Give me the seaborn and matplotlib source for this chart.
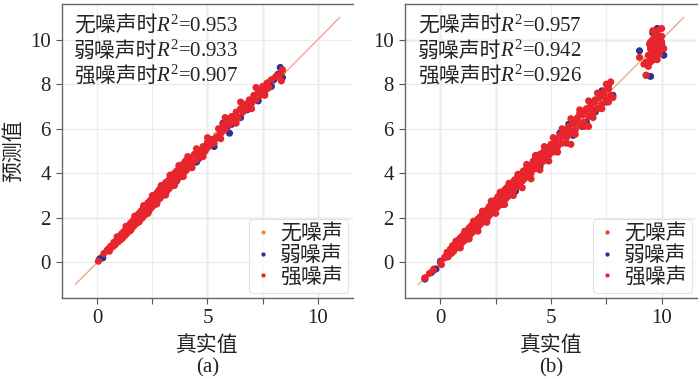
import matplotlib
matplotlib.use("Agg")
import matplotlib.pyplot as plt
import matplotlib.transforms as mtransforms
import seaborn as sns
import pandas as pd
from matplotlib.ticker import MultipleLocator

# ---------------- data ----------------
series_names = ["无噪声", "弱噪声", "强噪声"]
r2_a = ["0.953", "0.933", "0.907"]
r2_b = ["0.957", "0.942", "0.926"]
x_ticks = [0, 5, 10]
y_ticks = [0, 2, 4, 6, 8, 10]

# panel (a)
a_none_true = [0.2, 0.6, 1.0, 1.4, 1.8, 2.2, 2.6, 3.0, 3.4, 3.8, 4.2, 4.6, 5.0, 5.4, 5.8, 6.2,
               6.6, 7.0, 7.4, 7.8, 8.1, 8.35, 8.4]
a_none_pred = [0.25, 0.65, 1.1, 1.5, 1.95, 2.35, 2.8, 3.2, 3.6, 4.05, 4.45, 4.9, 5.3, 5.7, 6.1, 6.5,
               6.9, 7.3, 7.7, 8.1, 8.3, 8.35, 8.55]
a_weak_true = [0.1, 0.25, 0.9, 1.5, 2.3, 3.0, 3.4, 3.6, 4.2, 4.5, 4.6, 4.8, 5.0, 5.2, 5.3, 5.5,
               5.9, 6.1, 6.3, 6.5, 6.7, 6.9, 7.1, 7.3, 7.5, 7.7, 7.9, 8.0, 8.2, 8.3, 8.4, 6.0, 4.0,
               2.7, 3.8, 5.7, 6.8]
a_weak_pred = [0.15, 0.2, 0.9, 1.55, 2.4, 3.1, 3.45, 3.65, 4.35, 4.5, 4.65, 4.9, 5.3, 5.5, 5.2, 5.65,
               6.1, 6.2, 6.4, 6.5, 6.9, 7.0, 7.35, 7.25, 7.75, 7.8, 7.9, 8.2, 8.45, 8.75, 8.3, 5.8, 4.4,
               2.8, 3.9, 6.25, 6.85]
a_strong_true = [0.05, 0.3, 0.45,
                 0.5, 0.55, 0.6, 0.7, 0.75, 0.8, 0.9, 0.95, 1.0, 1.05, 1.1, 1.15, 1.2, 1.25, 1.3,
                 1.35, 1.4, 1.45, 1.5, 1.55, 1.6, 1.65, 1.7, 1.75, 1.8, 1.85, 1.9, 1.95, 2.0, 2.05,
                 2.1, 2.15, 2.2, 2.25, 2.3, 2.35, 2.4, 2.45, 2.5, 2.55, 2.6, 2.65, 2.7, 2.75, 2.8,
                 2.85, 2.9, 2.95, 3.0, 3.05, 3.1, 3.15, 3.2, 3.25, 3.3, 3.35, 3.4, 3.45, 3.5, 3.55,
                 3.6, 3.65, 3.7, 3.75, 3.8, 3.85, 3.9, 3.95, 4.0, 4.05,
                 0.6, 0.8, 1.0, 1.2, 1.4, 1.6, 1.8, 2.0, 2.2, 2.4, 2.6, 2.8, 3.0, 3.2, 3.4, 3.6, 3.8,
                 4.1, 4.2, 4.3, 4.4, 4.5, 4.6, 4.7, 4.8, 4.9, 5.0, 5.1, 5.2, 5.3, 5.5, 5.6, 5.7, 5.8,
                 5.9, 6.0, 6.1, 6.2, 6.3, 6.4, 6.5, 6.6, 6.7, 6.8, 6.9, 7.0, 7.1, 7.2, 7.3, 7.4, 7.5,
                 7.6, 7.7, 7.8, 7.9, 8.1, 8.3, 8.35, 8.4, 5.4, 6.0, 4.6, 5.0,
                 0.9, 1.3, 1.7, 2.1, 2.5, 2.9, 3.3, 3.7, 4.1, 4.5, 5.0, 5.8, 6.5, 7.2,
                 1.1, 1.5, 1.9, 2.3, 2.7, 3.1, 3.5, 3.9, 4.3, 4.8, 5.6, 6.3, 7.0, 7.6]
a_strong_pred = [0.05, 0.4, 0.55,
                 0.6, 0.5, 0.72, 0.7, 0.9, 0.78, 1.05, 0.92, 1.15, 1.02, 1.28, 1.1, 1.38, 1.2, 1.5,
                 1.3, 1.6, 1.42, 1.75, 1.5, 1.85, 1.62, 1.98, 1.72, 2.1, 1.8, 2.2, 1.92, 2.32, 2.0,
                 2.45, 2.12, 2.55, 2.22, 2.68, 2.32, 2.78, 2.45, 2.9, 2.55, 3.0, 2.65, 3.12, 2.78, 3.25,
                 2.88, 3.35, 3.0, 3.45, 3.1, 3.58, 3.2, 3.65, 3.3, 3.8, 3.42, 3.9, 3.52, 4.0, 3.62,
                 4.1, 3.75, 4.2, 3.85, 4.3, 3.95, 4.42, 4.05, 4.55, 4.15,
                 0.66, 0.88, 1.1, 1.3, 1.52, 1.72, 1.95, 2.15, 2.38, 2.6, 2.82, 3.05, 3.25, 3.48, 3.7,
                 3.9, 4.12,
                 4.3, 4.7, 4.45, 4.85, 4.6, 5.0, 4.8, 5.2, 5.0, 5.4, 5.25, 5.5, 5.35, 6.0, 5.8, 6.2,
                 5.95, 6.35, 6.2, 6.55, 6.35, 6.75, 6.5, 6.9, 6.75, 7.1, 6.9, 7.3, 7.15, 7.5, 7.3,
                 7.65, 7.5, 7.9, 7.7, 8.05, 7.85, 8.2, 8.35, 8.45, 8.15, 8.65, 5.6, 6.45, 4.7, 5.15,
                 1.15, 1.62, 2.08, 2.55, 3.0, 3.45, 3.92, 4.35, 4.75, 5.1, 5.6, 6.5, 7.2, 7.85,
                 1.05, 1.42, 1.82, 2.2, 2.62, 3.02, 3.45, 3.85, 4.25, 4.75, 5.55, 6.25, 6.9, 7.5]

# panel (b)
b_none_true = [-0.7, -0.3, 0.2, 0.8, 1.4, 2.0, 2.6, 3.2, 3.8, 4.4, 5.0, 5.6, 6.2, 6.8, 7.4,
               9.5, 9.7, 9.9]
b_none_pred = [-0.7, -0.3, 0.25, 0.85, 1.45, 2.1, 2.7, 3.3, 3.9, 4.5, 5.1, 5.7, 6.3, 6.9, 7.5,
               9.6, 9.8, 9.9]
b_weak_true = [-0.7, -0.4, -0.2, 0.0, 0.35, 2.1, 2.8, 3.4, 4.0, 4.5, 5.2, 5.4, 6.0, 6.4, 6.6,
               6.9, 7.1, 7.3, 7.5, 7.6, 7.8, 9.0, 9.3, 9.5, 9.8, 10.0, 10.1, 9.7, 9.9, 9.6,
               1.2, 3.0, 4.8, 5.8, 7.0]
b_weak_pred = [-0.75, -0.45, -0.3, 0.05, 0.45, 1.9, 2.6, 3.2, 4.3, 4.3, 5.0, 5.8, 5.7, 6.1, 6.3,
               7.2, 6.9, 7.7, 7.2, 7.8, 7.5, 9.5, 8.4, 8.35, 10.5, 9.8, 9.3, 9.3, 10.0, 10.3,
               1.05, 3.3, 4.6, 6.2, 6.75]
b_strong_true = [-0.7, -0.5, -0.3, 0.0, 0.05, 0.2, 0.3, 0.35, 0.45, 0.5, 0.55, 0.6, 0.7, 0.75,
                 0.8, 0.85, 0.9, 0.95, 1.0, 1.05, 1.1, 1.15, 1.2, 1.25, 1.3, 1.35, 1.4, 1.45, 1.5,
                 1.55, 1.6, 1.65, 1.7, 1.75, 1.8, 1.85, 1.9, 1.95, 2.0, 2.05, 2.1, 2.15, 2.2, 2.25,
                 2.3, 2.35, 2.4, 2.45, 2.5, 2.55, 2.6, 2.65, 2.7, 2.75, 2.8, 2.85, 2.9, 2.95, 3.0,
                 3.05, 3.1, 3.15, 3.2, 3.3, 3.35, 3.4, 3.5, 3.55, 3.6, 3.7, 3.75, 3.8, 3.9, 3.95,
                 4.0, 4.1, 4.2, 4.3, 4.35, 4.4, 4.5, 4.6, 4.65, 4.7, 4.8, 4.9, 5.0, 5.1, 5.2, 5.3,
                 5.4, 5.5, 5.6, 5.7, 5.8, 5.9, 6.0, 6.1, 6.2, 6.3, 6.4, 6.5, 6.6, 6.7, 6.8, 6.9,
                 7.0, 7.1, 7.2, 7.3, 7.4, 7.5, 7.6, 7.7, 7.7, 7.8, 5.9, 6.7, 4.3, 3.6, 5.0, 6.3,
                 0.4, 0.6, 0.8, 1.0, 1.2, 1.4, 1.6, 1.8, 2.0, 2.2, 2.4, 2.6, 2.8, 3.0, 3.2, 3.4,
                 3.6, 3.8, 4.0, 4.2, 4.4, 4.6, 4.8, 5.0, 5.2, 5.4, 5.6, 5.8, 6.0, 6.2, 6.4, 6.6,
                 6.8, 7.0, 7.2, 7.4, 7.6,
                 0.7, 1.1, 1.5, 1.9, 2.3, 2.7, 3.1, 3.5, 3.9, 4.3, 4.7, 5.1, 5.5, 5.9, 6.3, 6.7,
                 7.1, 7.5,
                 0.9, 1.3, 1.7, 2.1, 2.5, 2.9, 3.3, 3.7, 4.1, 4.5, 4.9, 5.3, 5.7, 6.1, 6.5, 6.9,
                 7.3, 7.6,
                 9.3, 9.4, 9.5, 9.5, 9.6, 9.6, 9.6, 9.7, 9.7, 9.7, 9.8, 9.8, 9.8, 9.9, 9.9, 10.0,
                 10.0, 9.5, 9.4, 9.2, 9.0, 9.6, 10.1, 9.3, 9.55, 9.75, 9.85, 9.65, 9.45, 9.7, 9.9,
                 9.6, 9.8, 10.0, 9.5, 9.75]
b_strong_pred = [-0.7, -0.5, -0.35, 0.0, -0.1, 0.2, 0.45, 0.25, 0.6, 0.4, 0.75, 0.5, 0.85, 0.65,
                 1.0, 0.75, 1.1, 0.85, 1.2, 0.95, 1.3, 1.05, 1.4, 1.15, 1.55, 1.25, 1.65, 1.35, 1.75,
                 1.45, 1.85, 1.55, 1.95, 1.65, 2.05, 1.75, 2.15, 1.85, 2.25, 1.95, 2.35, 2.05, 2.5, 2.15,
                 2.6, 2.25, 2.7, 2.35, 2.8, 2.45, 2.95, 2.55, 3.05, 2.65, 3.15, 2.75, 3.25, 2.85, 3.35,
                 2.95, 3.45, 3.05, 3.55, 3.25, 3.7, 3.35, 3.85, 3.45, 3.95, 3.65, 4.1, 3.75, 4.25, 3.9,
                 4.35, 4.0, 4.55, 4.2, 4.7, 4.35, 4.85, 4.5, 4.95, 4.6, 5.1, 4.8, 5.25, 4.95, 5.5, 5.2,
                 5.7, 5.35, 5.9, 5.6, 6.1, 5.8, 6.3, 5.95, 6.5, 6.15, 6.7, 6.3, 6.9, 6.55, 7.1, 6.7,
                 7.3, 6.9, 7.5, 7.1, 7.7, 7.3, 7.9, 7.5, 8.1, 7.4, 5.3, 6.1, 4.7, 3.9, 5.3, 6.7,
                 0.48, 0.68, 0.9, 1.1, 1.3, 1.5, 1.72, 1.92, 2.12, 2.32, 2.55, 2.75, 2.95, 3.15, 3.38,
                 3.6, 3.8, 4.0, 4.2, 4.42, 4.62, 4.82, 5.02, 5.22, 5.42, 5.62, 5.82, 6.02, 6.22, 6.42,
                 6.62, 6.82, 7.0, 7.2, 7.4, 7.6, 7.8,
                 0.95, 1.4, 1.85, 2.3, 2.75, 3.15, 3.55, 3.95, 4.4, 4.8, 5.2, 5.6, 6.0, 6.45, 6.85,
                 7.25, 7.6, 8.0,
                 0.65, 1.05, 1.4, 1.8, 2.2, 2.6, 3.0, 3.35, 3.75, 4.15, 4.55, 4.95, 5.35, 5.75, 6.1,
                 6.5, 6.9, 7.2,
                 9.0, 9.3, 9.6, 9.9, 9.2, 9.5, 10.0, 9.7, 10.2, 9.4, 9.8, 10.4, 9.1, 9.6, 10.1, 9.9,
                 10.5, 9.0, 8.8, 8.9, 9.2, 10.4, 9.6, 8.4, 9.75, 10.0, 9.4, 9.1, 9.8, 9.95, 9.35,
                 9.65, 10.25, 10.15, 9.25, 9.55]

diag = [-1, 11]

# ---------------- style ----------------
sns.set_theme(style="white")
plt.rcParams["font.family"] = ["Liberation Serif", "Noto Sans CJK SC"]
plt.rcParams["mathtext.fontset"] = "custom"
plt.rcParams["mathtext.rm"] = "Liberation Serif"
plt.rcParams["mathtext.it"] = "Liberation Serif:italic"

colors_a = {"无噪声": "#f08a3c", "弱噪声": "#2a3593", "强噪声": "#e8242c"}
colors_b = {"无噪声": "#e8402c", "弱噪声": "#2a3593", "强噪声": "#e8242c"}

fig = plt.figure(figsize=(7, 3.85), dpi=100)
ax_a = fig.add_axes([62 / 700, 1 - 298 / 385, 291 / 700, 294 / 385])
ax_b = fig.add_axes([405 / 700, 1 - 298 / 385, 292 / 700, 294 / 385])


def make_df(tr, pr, name):
    return pd.DataFrame({"真实值": tr, "预测值": pr, "组": name})


def draw(ax, data, colors, r2, label, dark_v, dark_h, ylabel, tx):
    ax.set_xlim(-1.6, 11.6)
    ax.set_ylim(-1.6, 11.6)
    ax.plot(diag, diag, color="#eda27c", lw=0.9, zorder=1)
    df = pd.concat([make_df(t, p, n) for (t, p, n) in data], ignore_index=True)
    sns.scatterplot(data=df, x="真实值", y="预测值", hue="组", palette=colors,
                    hue_order=series_names, s=26, linewidth=0, ax=ax, zorder=2,
                    legend=True)
    ax.set_xticks(x_ticks)
    ax.xaxis.set_minor_locator(MultipleLocator(2.5))
    ax.set_yticks(y_ticks)
    ax.grid(which="both", color="#ececec", lw=0.8, zorder=0)
    for v in dark_v:
        ax.axvline(v, color="#b4b4b4", lw=0.9, zorder=0.5)
    for h in dark_h:
        ax.axhline(h, color="#b4b4b4", lw=0.9, zorder=0.5)
    ax.set_axisbelow(True)
    ax.tick_params(axis="both", which="major", labelsize=15, length=4, width=0.8,
                   color="#555555", pad=4, labelcolor="#222222", direction="out",
                   bottom=True, left=True)
    ax.tick_params(axis="x", which="minor", length=4, width=0.8, color="#555555",
                   bottom=True)
    for side in ["left", "bottom", "top"]:
        ax.spines[side].set_color("#666666")
        ax.spines[side].set_linewidth(1.0)
    ax.spines["right"].set_visible(False)
    ax.set_xlabel("真实值\n" + label, fontsize=15, color="#222222", labelpad=6,
                  linespacing=1.15)
    if ylabel:
        ax.set_ylabel("预测值", fontsize=15, color="#222222", labelpad=4)
    else:
        ax.set_ylabel("")
    # annotation: Chinese prefix + italic R^2 part, drawn on a shared baseline
    shift = mtransforms.offset_copy(ax.transAxes, fig=fig, x=59, y=0, units="points")
    for i, (n, v) in enumerate(zip(series_names, r2)):
        yb = 0.905 - i * 25 / 294
        ax.text(tx, yb, f"{n}时", transform=ax.transAxes, ha="left", va="baseline",
                fontsize=15, color="#222222")
        ax.text(tx, yb, f"$R^2$={v}", transform=shift, ha="left", va="baseline",
                fontsize=15, color="#222222")
    leg = ax.legend(loc="lower right", fontsize=15, markerscale=0.6, frameon=True,
                    handletextpad=0.35, labelspacing=0.08, borderpad=0.25,
                    handlelength=0.9, borderaxespad=0.25, fancybox=True)
    leg.get_frame().set_edgecolor("#dddddd")
    leg.get_frame().set_linewidth(0.8)
    for t in leg.get_texts():
        t.set_color("#222222")


draw(ax_a,
     [(a_none_true, a_none_pred, "无噪声"), (a_weak_true, a_weak_pred, "弱噪声"),
      (a_strong_true, a_strong_pred, "强噪声")],
     colors_a, r2_a, "(a)", dark_v=[5, 7.5, 10], dark_h=[2], ylabel=True, tx=0.041)
draw(ax_b,
     [(b_none_true, b_none_pred, "无噪声"), (b_weak_true, b_weak_pred, "弱噪声"),
      (b_strong_true, b_strong_pred, "强噪声")],
     colors_b, r2_b, "(b)", dark_v=[0, 2.5, 10], dark_h=[10], ylabel=False, tx=0.045)

fig.savefig("out.png", dpi=100)
